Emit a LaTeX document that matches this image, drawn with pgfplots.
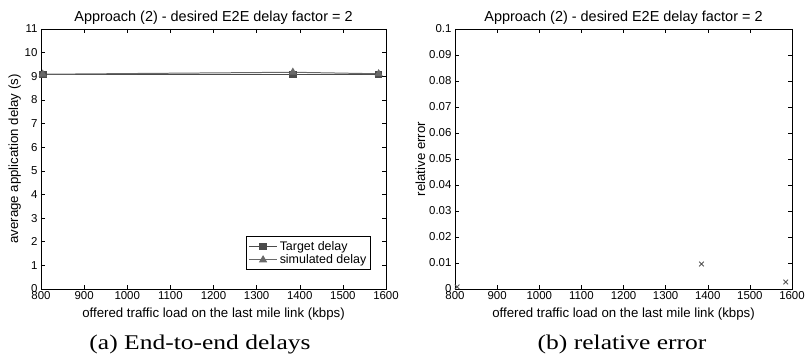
\documentclass[border=0pt]{standalone}
\usepackage{fontspec}
\setmainfont{Liberation Sans}
\newfontfamily\capfont{Liberation Serif}
\usepackage{pgfplots}
\pgfplotsset{compat=1.18}

\definecolor{targetc}{RGB}{75,75,75}
\definecolor{simc}{RGB}{105,105,105}
\definecolor{errc}{RGB}{85,85,85}

\pgfplotsset{
  mstyle/.style={
    scale only axis,
    height=260bp,
    xmin=800, xmax=1600,
    xtick={800,900,...,1600},
    tick align=inside,
    tick pos=both,
    major tick length=4bp,
    axis line style={black, line width=0.8pt},
    every tick/.style={black, line width=0.5pt},
    tick label style={font=\fontsize{11.5}{12}\selectfont},
    xticklabel style={yshift=1bp},
    label style={font=\fontsize{13.3}{15}\selectfont},
    title style={font=\fontsize{14.5}{16}\selectfont, yshift=-5bp},
    /pgf/number format/assume math mode=true,
    /pgf/number format/1000 sep={},
    xlabel={offered traffic load on the last mile link (kbps)},
    xlabel style={yshift=-1bp},
    title={Approach (2) - desired E2E delay factor = 2},
  }
}

\begin{document}
\begin{tikzpicture}
\useasboundingbox (0bp,0bp) rectangle (808bp,362bp);

\begin{axis}[mstyle,
  at={(41bp,73bp)}, anchor=south west,
  width=345bp,
  ymin=0, ymax=11, ytick={0,1,...,11},
  ylabel={average application delay (s)},
  ylabel style={yshift=-3bp},
  legend style={at={(0.957,0.073)}, anchor=south east, draw=black, line width=0.8pt,
    font=\fontsize{12.5}{14}\selectfont, inner sep=2.5pt, row sep=-1pt,
    cells={anchor=west}},
  legend cell align=left,
  legend image code/.code={
    \draw[mark repeat=2,mark phase=2] plot coordinates {(0cm,0cm) (0.5cm,0cm) (1.0cm,0cm)};},
]
\addplot[targetc, line width=1pt, mark=square*, mark size=3.3pt, mark options={fill=targetc}]
  coordinates {(804,9.08) (1384,9.08) (1583,9.08)};
\addlegendentry{Target delay}
\addplot[simc, line width=1pt, mark=triangle*, mark size=3.8pt, mark options={fill=simc}]
  coordinates {(804,9.085) (1384,9.17) (1583,9.105)};
\addlegendentry{simulated delay}
\end{axis}

\begin{axis}[mstyle,
  at={(455bp,73bp)}, anchor=south west,
  width=337bp,
  ymin=0, ymax=0.1, ytick={0,0.01,...,0.1},
  yticklabels={0,0.01,0.02,0.03,0.04,0.05,0.06,0.07,0.08,0.09,0.1},
  ylabel={relative error},
  ylabel style={yshift=-3bp},
]
\addplot[errc, only marks, mark=x, mark size=3.3pt, line width=0.9pt]
  coordinates {(805,0.0008) (1385,0.0096) (1585,0.0027)};
\end{axis}

\node[font=\capfont\fontsize{21}{24}\selectfont, xscale=1.22] at (200bp,18bp) {(a) End-to-end delays};
\node[font=\capfont\fontsize{21}{24}\selectfont, xscale=1.22] at (622bp,18bp) {(b) relative error};
\end{tikzpicture}
\end{document}
